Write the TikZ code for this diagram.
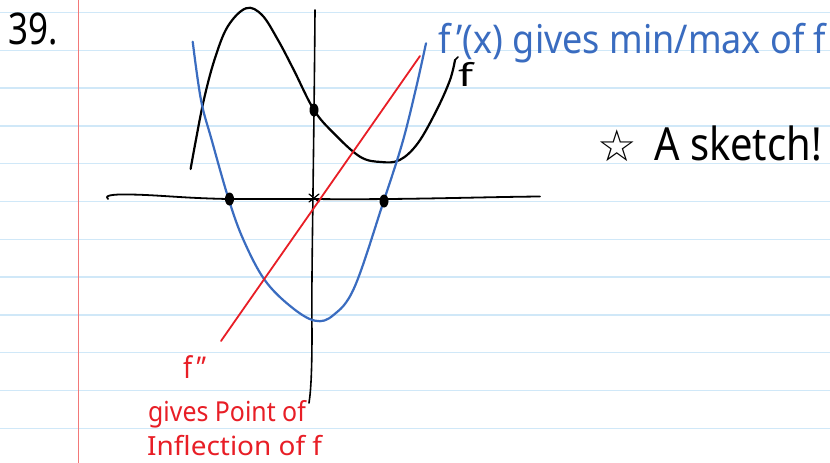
\documentclass[tikz,border=0pt]{standalone}
\usepackage{fontspec}
\setmainfont{Noto Sans}
\newfontfamily\symfont{DejaVu Sans}
\usetikzlibrary{shapes.geometric}
\definecolor{rulecol}{RGB}{208,232,248}
\definecolor{margincol}{RGB}{242,120,120}
\definecolor{penblue}{RGB}{58,108,192}
\definecolor{penred}{RGB}{232,30,38}
\begin{document}
\begin{tikzpicture}[x=1pt,y=-1pt,
  rule/.style={rulecol,line width=1.4pt},
  marginline/.style={margincol,line width=1.4pt},
  pen/.style={line width=2.2pt,line cap=round,line join=round},
  dotmark/.style={ellipse,fill=black,inner sep=0pt,minimum width=9pt,minimum height=13pt},
  handtxt/.style={inner sep=0pt,anchor=base west}]
\fill[white] (0,0) rectangle (830,463);
\useasboundingbox (0,0) rectangle (830,463);
% ruled paper
\foreach \i in {0,...,11} \draw[rule] (0,12.5+37.8*\i) -- (830,12.5+37.8*\i);
\draw[marginline] (78.3,0) -- (78.3,463);
% axes
\draw[pen,line width=1.8pt] (108,199) .. controls (104,196) and (110,194) .. (130,194.5)
  .. controls (160,195) and (180,198) .. (228,199) -- (313,199)
  .. controls (400,200) and (480,197) .. (540,196.5);
\draw[pen,line width=1.6pt] (315,10) .. controls (314,150) and (311,300) .. (312,330)
  .. controls (312,370) and (311,390) .. (309,403);
% origin mark
\coordinate (o) at (314,198);
\draw[pen,line width=1.2pt] ([shift={(-5,-4)}]o) -- ([shift={(5,4)}]o)
  ([shift={(-5,4)}]o) -- ([shift={(5,-4)}]o);
% f
\draw[pen] plot[smooth,tension=0.6] coordinates {(190.6,169) (195.9,140) (203.8,100) (214.4,60) (227.6,26.7) (246,8.3) (262,15) (278,40) (293.8,70) (314,110) (333.5,133) (360,156.7) (381,162) (399.7,160) (418,143) (436.7,110) (450,80) (455,60)};
\draw[pen,line width=1.6pt] (455,60) -- (458,57);
% f'
\draw[pen,penblue] plot[smooth,tension=0.6] coordinates {(192.7,41.7) (201,100) (211.7,140) (228.7,199.3) (243.5,240) (264.7,280) (291,306.7) (315,320.7) (333.5,315) (354.7,286.7) (383.8,200.7) (402.3,143) (415.6,90) (426,43.3)};
% f''
\draw[pen,penred,line width=1.8pt] (221,341) -- (420,56);
% dots
\node[dotmark] (d1) at (314,110) {};
\node[dotmark] (d2) at (229.5,199) {};
\node[dotmark] (d3) at (384,201) {};
% texts
\node[handtxt] (n39) at (8,44) {\fontsize{38}{40}\selectfont\scalebox{0.92}[1.15]{39.}};
\node[handtxt,penblue] (fp) at (438,53) {\fontsize{36}{38}\selectfont\scalebox{1}[1.1]{f\,'(x) gives min/max of f}};
\node[handtxt] (flab) at (458,86) {\fontsize{30}{32}\selectfont\scalebox{1.45}[1.05]{f}};
\node[inner sep=0pt] (star) at (617,146) {\symfont\fontsize{44}{44}\selectfont ☆};
\node[handtxt] (sk) at (654,160) {\fontsize{38}{40}\selectfont\scalebox{1.05}[1.2]{A sketch!}};
\node[handtxt,penred] (fpp) at (183,378) {\fontsize{24}{26}\selectfont\scalebox{1.1}[1.25]{f\,''}};
\node[handtxt,penred] (gp) at (148,421) {\fontsize{22}{24}\selectfont\scalebox{1.13}[1.25]{gives Point of}};
\node[handtxt,penred] (inf) at (147,455) {\fontsize{22}{24}\selectfont\scalebox{1.27}[1.2]{Inflection of f}};
\end{tikzpicture}
\end{document}
